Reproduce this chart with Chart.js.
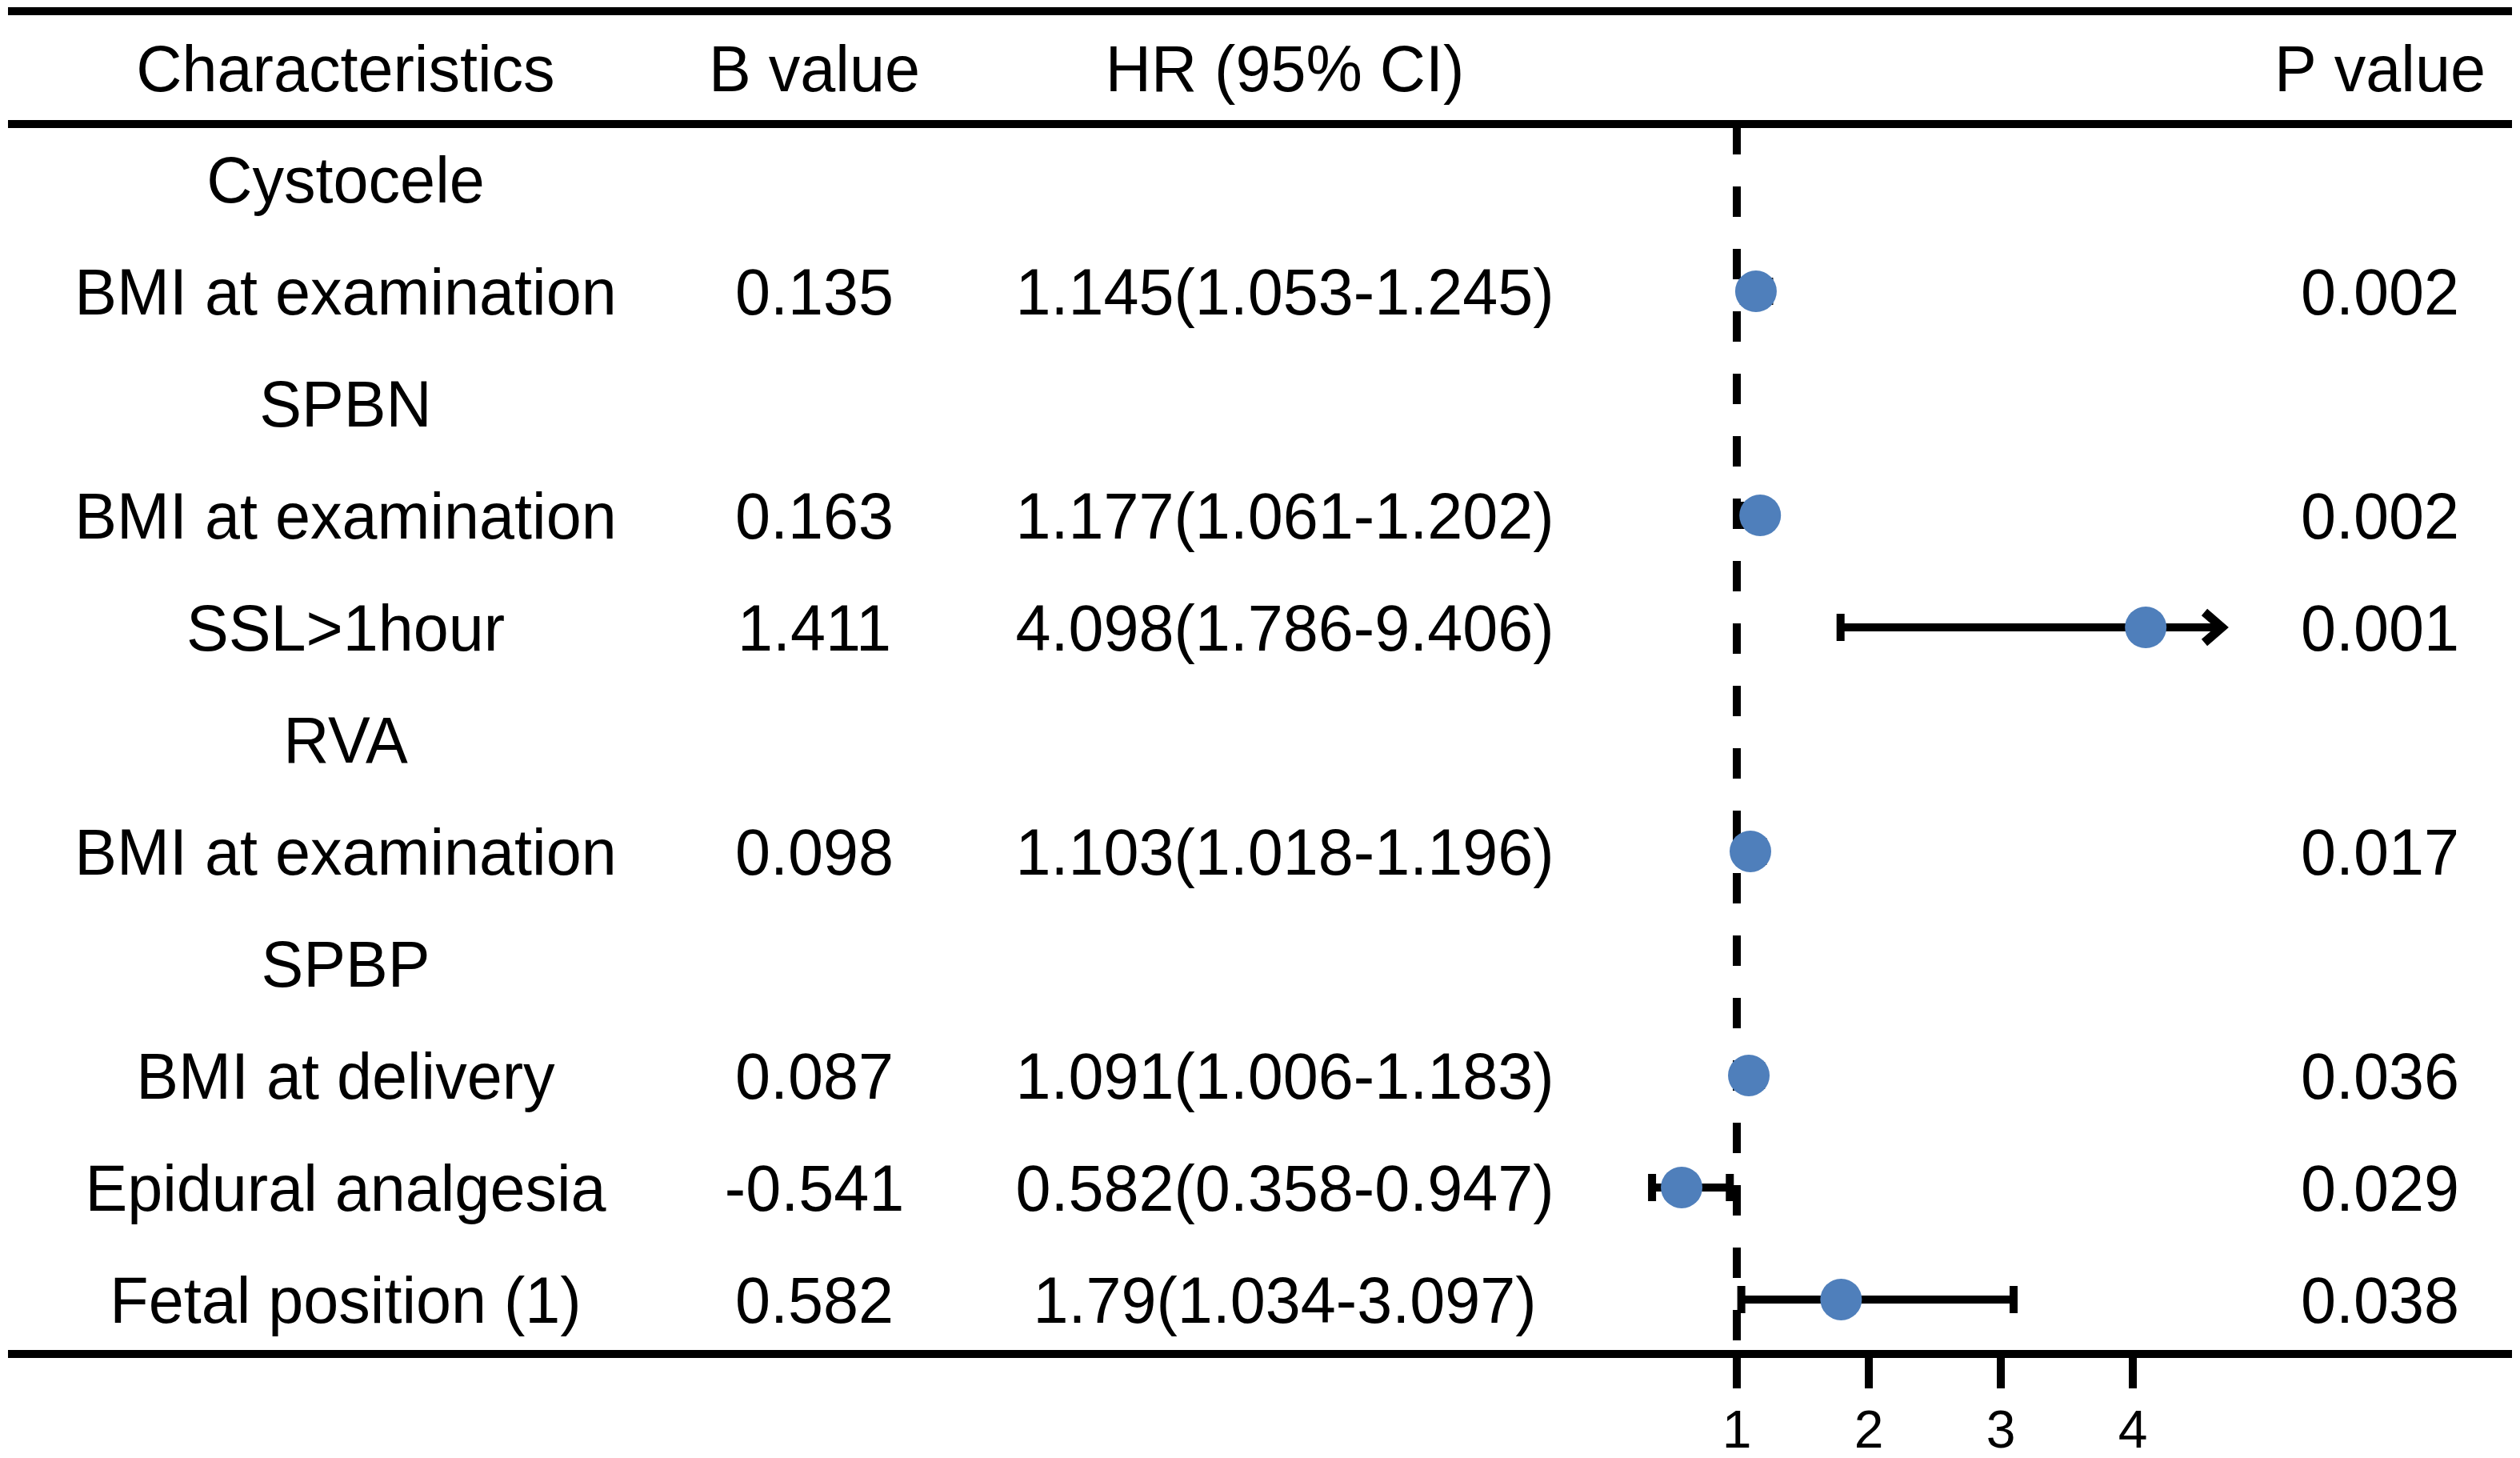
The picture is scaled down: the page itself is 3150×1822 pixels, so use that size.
<!DOCTYPE html>
<html>

<head>
    <title>Forest plot</title>
    <script src="https://cdn.jsdelivr.net/npm/chart.js@4.4.1/dist/chart.umd.min.js"></script>
    <style>
        body { margin: 0; background: #fff; }
        #wrap { width: 3150px; height: 1822px; position: relative; }
    </style>
</head>

<body>
    <div id="wrap"><canvas id="forest"></canvas></div>

    <script>
        // table rows, top to bottom
        var rowLabels = ['Cystocele', 'BMI at examination', 'SPBN', 'BMI at examination', 'SSL>1hour', 'RVA',
            'BMI at examination', 'SPBP', 'BMI at delivery', 'Epidural analgesia', 'Fetal position (1)'];
        var bValues = ['', '0.135', '', '0.163', '1.411', '', '0.098', '', '0.087', '-0.541', '0.582'];
        var hrValues = [null, 1.145, null, 1.177, 4.098, null, 1.103, null, 1.091, 0.582, 1.79];
        var ciLow = [null, 1.053, null, 1.061, 1.786, null, 1.018, null, 1.006, 0.358, 1.034];
        var ciHigh = [null, 1.245, null, 1.202, 9.406, null, 1.196, null, 1.183, 0.947, 3.097];
        var pValues = ['', '0.002', '', '0.002', '0.001', '', '0.017', '', '0.036', '0.029', '0.038'];
        var headers = ['Characteristics', 'B value', 'HR (95% CI)', 'P value'];
        var xTicks = [1, 2, 3, 4];
        var arrowLimit = 4.7; // CIs beyond this end in an arrow

        var FONT = '"Liberation Sans", Arial, sans-serif';
        var colX = [432, 1018, 1606, 2975];

        function hrText(i) {
            if (hrValues[i] === null) return '';
            return hrValues[i] + '(' + ciLow[i] + '-' + ciHigh[i] + ')';
        }

        function drawText(ctx, txt, x, yc) {
            var size = 82;
            ctx.save();
            ctx.font = size + 'px ' + FONT;
            ctx.fillStyle = '#000';
            ctx.textAlign = 'center';
            ctx.textBaseline = 'alphabetic';
            ctx.translate(x, yc + 0.358 * size);
            ctx.scale(0.965, 1);
            ctx.fillText(txt, 0, 0);
            ctx.restore();
        }

        var points = [];
        for (var i = 0; i < hrValues.length; i++) {
            if (hrValues[i] !== null) points.push({ x: hrValues[i], y: i });
        }

        var forestPlugin = {
            id: 'forest',
            beforeDatasetsDraw: function (chart) {
                var ctx = chart.ctx, xs = chart.scales.x, ys = chart.scales.y, area = chart.chartArea;
                ctx.save();
                // reference line at HR = 1
                var x1 = xs.getPixelForValue(1);
                ctx.strokeStyle = '#000';
                ctx.lineWidth = 10;
                ctx.setLineDash([38, 40]);
                ctx.beginPath();
                ctx.moveTo(x1, area.top);
                ctx.lineTo(x1, area.bottom);
                ctx.stroke();
                ctx.setLineDash([]);

                // confidence intervals
                for (var i = 0; i < hrValues.length; i++) {
                    if (hrValues[i] === null) continue;
                    var y = ys.getPixelForValue(i);
                    var a = xs.getPixelForValue(ciLow[i]);
                    var clipped = ciHigh[i] > arrowLimit;
                    var b = xs.getPixelForValue(clipped ? arrowLimit : ciHigh[i]);
                    ctx.lineWidth = 10;
                    ctx.beginPath();
                    ctx.moveTo(a, y);
                    ctx.lineTo(clipped ? b - 6 : b, y);
                    ctx.moveTo(a, y - 17);
                    ctx.lineTo(a, y + 17);
                    if (!clipped) {
                        ctx.moveTo(b, y - 17);
                        ctx.lineTo(b, y + 17);
                    }
                    ctx.stroke();
                    if (clipped) {
                        ctx.lineJoin = 'miter';
                        ctx.lineWidth = 11;
                        ctx.beginPath();
                        ctx.moveTo(b - 26, y - 19);
                        ctx.lineTo(b - 4, y);
                        ctx.lineTo(b - 26, y + 19);
                        ctx.stroke();
                    }
                }
                ctx.restore();
            },
            afterDraw: function (chart) {
                var ctx = chart.ctx, ys = chart.scales.y, area = chart.chartArea;
                ctx.save();
                ctx.fillStyle = '#000';
                // table rules
                ctx.fillRect(10, 9, 3130, 10);
                ctx.fillRect(10, area.top - 5, 3130, 10);
                ctx.fillRect(10, area.bottom - 5, 3130, 10);
                ctx.restore();

                var headY = (14 + area.top) / 2;
                for (var h = 0; h < headers.length; h++) drawText(ctx, headers[h], colX[h], headY);

                for (var i = 0; i < rowLabels.length; i++) {
                    var y = ys.getPixelForValue(i);
                    drawText(ctx, rowLabels[i], colX[0], y);
                    drawText(ctx, bValues[i], colX[1], y);
                    drawText(ctx, hrText(i), colX[2], y);
                    drawText(ctx, pValues[i], colX[3], y);
                }
            }
        };

        var ctx = document.getElementById('forest').getContext('2d');
        var chart = new Chart(ctx, {
            type: 'scatter',
            data: {
                datasets: [{
                    data: points,
                    pointRadius: 26,
                    pointHoverRadius: 26,
                    pointBackgroundColor: '#4f7fbb',
                    pointBorderWidth: 0,
                    borderWidth: 0
                }]
            },
            options: {
                responsive: true,
                maintainAspectRatio: false,
                animation: false,
                devicePixelRatio: 1,
                layout: { padding: { left: 2040, right: 320, top: 155, bottom: 0 } },
                plugins: { legend: { display: false }, tooltip: { enabled: false } },
                scales: {
                    x: {
                        type: 'linear',
                        min: 0.206,
                        max: 4.994,
                        afterFit: function (scale) { scale.height = 130; },
                        afterBuildTicks: function (scale) {
                            scale.ticks = xTicks.map(function (v) { return { value: v }; });
                        },
                        border: { display: false },
                        grid: {
                            drawOnChartArea: false,
                            drawTicks: true,
                            tickLength: 43,
                            lineWidth: 10,
                            color: '#000'
                        },
                        ticks: {
                            color: '#000',
                            padding: 16,
                            font: { family: FONT, size: 66 }
                        }
                    },
                    y: {
                        type: 'linear',
                        display: false,
                        reverse: true,
                        min: -0.493,
                        max: 10.486
                    }
                }
            },
            plugins: [forestPlugin]
        });
    </script>
</body>

</html>
